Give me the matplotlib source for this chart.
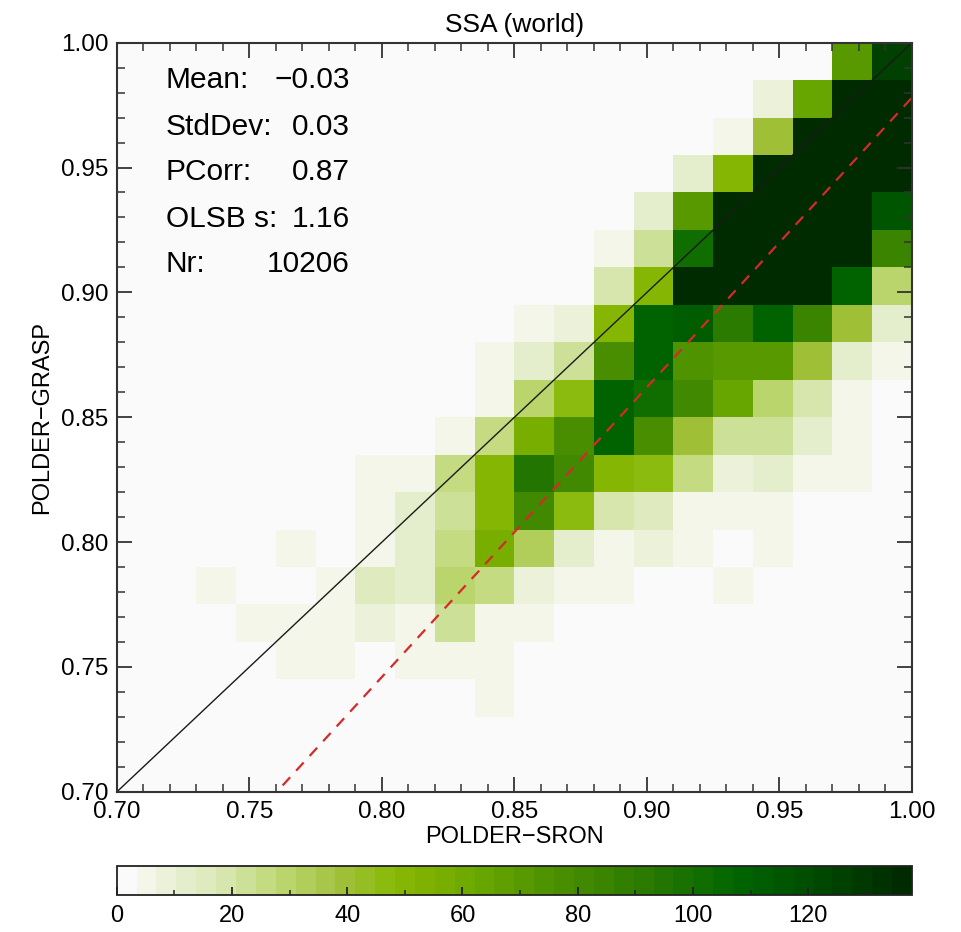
import numpy as np
import matplotlib

matplotlib.use("Agg")
import matplotlib.pyplot as plt
from matplotlib.colors import LinearSegmentedColormap, Normalize
from matplotlib.ticker import MultipleLocator

plt.rcParams["font.family"] = ["Liberation Sans", "DejaVu Sans"]

# bin edges of the 2D histogram (20 x 20 bins)
x_range = (0.70, 1.00)
y_range = (0.70, 1.00)
n_bins = 20

# counts per bin, top row first (y = 1.00 .. 0.70), columns x = 0.70 .. 1.00
counts_top_down = [
    [0, 0, 0, 0, 0, 0, 0, 0, 0, 0, 0, 0, 0, 0, 0, 0, 0, 0, 71, 125],
    [0, 0, 0, 0, 0, 0, 0, 0, 0, 0, 0, 0, 0, 0, 0, 0, 8, 64, 180, 160],
    [0, 0, 0, 0, 0, 0, 0, 0, 0, 0, 0, 0, 0, 0, 0, 5, 40, 170, 260, 190],
    [0, 0, 0, 0, 0, 0, 0, 0, 0, 0, 0, 0, 0, 0, 12, 50, 160, 290, 310, 200],
    [0, 0, 0, 0, 0, 0, 0, 0, 0, 0, 0, 0, 0, 11, 71, 170, 300, 330, 240, 116],
    [0, 0, 0, 0, 0, 0, 0, 0, 0, 0, 0, 0, 5, 22, 102, 210, 320, 280, 160, 85],
    [0, 0, 0, 0, 0, 0, 0, 0, 0, 0, 0, 0, 19, 50, 150, 240, 230, 170, 109, 30],
    [0, 0, 0, 0, 0, 0, 0, 0, 0, 0, 5, 8, 50, 109, 111, 92, 109, 85, 40, 11],
    [0, 0, 0, 0, 0, 0, 0, 0, 0, 5, 12, 22, 78, 109, 74, 71, 71, 40, 12, 5],
    [0, 0, 0, 0, 0, 0, 0, 0, 0, 5, 30, 46, 109, 102, 81, 64, 30, 19, 5, 0],
    [0, 0, 0, 0, 0, 0, 0, 0, 5, 26, 57, 78, 109, 78, 40, 22, 22, 12, 4, 0],
    [0, 0, 0, 0, 0, 0, 4, 4, 26, 50, 95, 81, 50, 46, 26, 8, 12, 5, 5, 0],
    [0, 0, 0, 0, 0, 0, 4, 11, 22, 50, 81, 46, 19, 15, 5, 5, 5, 0, 0, 0],
    [0, 0, 0, 0, 4, 0, 4, 11, 26, 57, 33, 12, 5, 8, 5, 0, 5, 0, 0, 0],
    [0, 0, 4, 0, 0, 4, 15, 11, 30, 26, 8, 5, 5, 0, 0, 5, 0, 0, 0, 0],
    [0, 0, 0, 4, 4, 4, 8, 5, 22, 5, 5, 0, 0, 0, 0, 0, 0, 0, 0, 0],
    [0, 0, 0, 0, 4, 4, 0, 4, 4, 4, 0, 0, 0, 0, 0, 0, 0, 0, 0, 0],
    [0, 0, 0, 0, 0, 0, 0, 0, 0, 4, 0, 0, 0, 0, 0, 0, 0, 0, 0, 0],
    [0, 0, 0, 0, 0, 0, 0, 0, 0, 0, 0, 0, 0, 0, 0, 0, 0, 0, 0, 0],
    [0, 0, 0, 0, 0, 0, 0, 0, 0, 0, 0, 0, 0, 0, 0, 0, 0, 0, 0, 0],
]

stat_names = ["Mean:", "StdDev:", "PCorr:", "OLSB s:", "Nr:"]
stat_values = ["\u22120.03", "0.03", "0.87", "1.16", "10206"]

olsb_slope = 1.16
olsb_intercept = -0.182

cbar_max = 138
cbar_ticks = [0, 20, 40, 60, 80, 100, 120]

# white -> yellow green -> dark green, 40 discrete levels
cmap = LinearSegmentedColormap.from_list(
    "greens_idl",
    [
        (0.00, "#fafafa"),
        (0.03, "#f2f5e6"),
        (0.12, "#dae8b4"),
        (0.20, "#bcd670"),
        (0.28, "#a0c038"),
        (0.33, "#8cbc10"),
        (0.37, "#84b400"),
        (0.45, "#6aa800"),
        (0.56, "#4a8e00"),
        (0.67, "#2a7a00"),
        (0.79, "#006400"),
        (0.89, "#004a00"),
        (1.00, "#002a00"),
    ],
    N=40,
)

counts = np.flipud(np.array(counts_top_down, dtype=float))
x_edges = np.linspace(*x_range, n_bins + 1)
y_edges = np.linspace(*y_range, n_bins + 1)

fig = plt.figure(figsize=(9.62, 9.32), dpi=100)
ax = fig.add_axes([0.1216, 0.1505, 0.8264, 0.8037])
ax.set_facecolor("#fafafa")

norm = Normalize(vmin=0, vmax=cbar_max)
mesh = ax.pcolormesh(x_edges, y_edges, counts, cmap=cmap, norm=norm,
                     shading="flat", antialiased=False, edgecolors="none")

# 1:1 line and OLS bisector fit
xx = np.array(x_range)
ax.plot(xx, xx, color="#1a1a1a", lw=1.0)
ax.plot(xx, olsb_slope * xx + olsb_intercept, color="#d42a2a", lw=1.6,
        dashes=(5, 4))

ax.set_xlim(*x_range)
ax.set_ylim(*y_range)
ax.xaxis.set_major_locator(MultipleLocator(0.05))
ax.yaxis.set_major_locator(MultipleLocator(0.05))
ax.xaxis.set_minor_locator(MultipleLocator(0.01))
ax.yaxis.set_minor_locator(MultipleLocator(0.01))
ax.xaxis.set_major_formatter(lambda v, p: f"{v:.2f}")
ax.yaxis.set_major_formatter(lambda v, p: f"{v:.2f}")
ax.tick_params(which="both", direction="in", top=True, right=True,
               color="#333333", labelsize=17.5)
ax.tick_params(which="major", length=11, width=1.3)
ax.tick_params(which="minor", length=6, width=1.1)
ax.tick_params(axis="x", pad=7)
ax.tick_params(axis="y", pad=6)
for s in ax.spines.values():
    s.set_color("#333333")
    s.set_linewidth(1.5)

ax.set_xlabel("POLDER\u2212SRON", fontsize=17, labelpad=2)
ax.set_ylabel("POLDER\u2212GRASP", fontsize=17, labelpad=6)
ax.set_title("SSA (world)", fontsize=19, pad=8)

y_text = [0.950, 0.888, 0.827, 0.765, 0.704]
for name, val, yt in zip(stat_names, stat_values, y_text):
    ax.text(0.0616, yt, name, transform=ax.transAxes, fontsize=21.5,
            ha="left", va="center")
    ax.text(0.293, yt, val, transform=ax.transAxes, fontsize=21.5,
            ha="right", va="center")

cax = fig.add_axes([0.1213, 0.0397, 0.8267, 0.0311])
cb = fig.colorbar(mesh, cax=cax, orientation="horizontal", ticks=cbar_ticks)
cb.ax.xaxis.set_minor_locator(MultipleLocator(10))
cb.ax.tick_params(which="both", direction="in", color="#222222",
                  labelsize=17, pad=7)
cb.ax.tick_params(which="major", length=6, width=1.3)
cb.ax.tick_params(which="minor", length=3.5, width=1.1)
cb.outline.set_edgecolor("#222222")
cb.outline.set_linewidth(1.3)

fig.savefig("out.png", dpi=100, facecolor="white")
